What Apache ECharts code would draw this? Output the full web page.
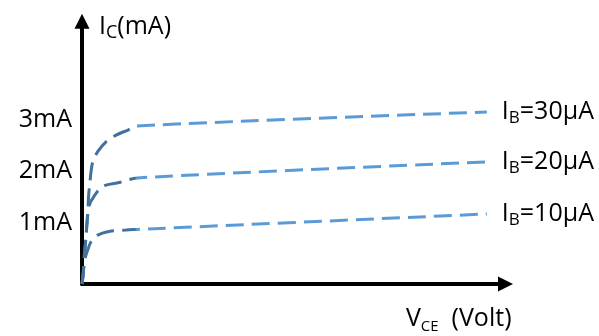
<!DOCTYPE html>
<html><head><meta charset="utf-8">
<script src="https://cdn.jsdelivr.net/npm/echarts@6/dist/echarts.min.js"></script>
<style>html,body{margin:0;padding:0;background:#fff}#c{width:599px;height:336px}</style>
</head><body><div id="c"></div>
<script>
// VCE (V) and IC (mA)
const ib30X = [0, 0.03, 0.054, 0.094, 0.135, 0.158, 0.189, 0.213, 0.253, 0.371, 0.567, 0.803, 1.086, 1.3, 9.56];
const ib30Y = [0, 0.21, 0.53, 0.92, 1.38, 1.73, 1.99, 2.18, 2.37, 2.57, 2.76, 2.89, 2.99, 3.07, 3.34];
const ib20X = [0, 0.03, 0.054, 0.094, 0.135, 0.189, 0.283, 0.401, 0.567, 0.874, 1.3, 9.56];
const ib20Y = [0, 0.21, 0.53, 0.92, 1.34, 1.57, 1.7, 1.83, 1.92, 1.97, 2.06, 2.37];
const ib10X = [0, 0.03, 0.054, 0.094, 0.135, 0.213, 0.371, 0.638, 1.039, 1.3, 9.56];
const ib10Y = [0, 0.21, 0.43, 0.56, 0.66, 0.82, 0.95, 1.02, 1.05, 1.06, 1.36];
const yTickLabels = ['', '1mA', '2mA', '3mA', '', ''];
const seriesNames = ['30', '20', '10'];

const FONT = 'Open Sans';
const zip = (xs, ys) => xs.map((x, i) => [x, ys[i]]);
const grad = () => new echarts.graphic.LinearGradient(0, 0, 1, 0, [
  {offset: 0, color: '#41719C'},
  {offset: 0.135, color: '#41719C'},
  {offset: 0.14, color: '#5B9BD5'},
  {offset: 1, color: '#5B9BD5'}
]);
const mkRich = (sub) => ({
  a: {fontSize: 25, fontFamily: FONT, color: '#000', lineHeight: 30},
  s: {fontSize: sub, fontFamily: FONT, color: '#000', lineHeight: 22, verticalAlign: 'bottom'}
});
const mkSeries = (name, xs, ys) => ({
  type: 'line', name: 'IB=' + name + 'μA', data: zip(xs, ys),
  showSymbol: false, symbol: 'none', smooth: 0.3,
  lineStyle: {width: 3, type: [18, 8], color: grad()},
  endLabel: {show: true, distance: 15, formatter: '{a|I}{s|B}{a|=' + name + 'μA}', rich: mkRich(17)},
  silent: true
});

const chart = echarts.init(document.getElementById('c'), null, {renderer: 'canvas'});
chart.setOption({
  animation: false,
  grid: {left: 82, right: 93.5, top: 21.35, bottom: 52},
  xAxis: {
    type: 'value', min: 0, max: 10,
    axisLine: {show: true, onZero: false, symbol: ['none', 'triangle'], symbolSize: [15, 15],
      lineStyle: {color: '#000', width: 4}},
    axisTick: {show: false}, axisLabel: {show: false}, splitLine: {show: false},
    name: '{a|V}{s|CE}{a|  (Volt)}', nameLocation: 'end', nameGap: 6,
    nameTextStyle: {align: 'right', verticalAlign: 'top', padding: [20, 0, 0, 0], rich: mkRich(15)}
  },
  yAxis: {
    type: 'value', min: 0, max: 5.1, interval: 1,
    axisLine: {show: true, onZero: false, symbol: ['none', 'triangle'], symbolSize: [15, 15],
      lineStyle: {color: '#000', width: 4}},
    axisTick: {show: false}, splitLine: {show: false},
    axisLabel: {show: true, margin: 10, fontSize: 25, fontFamily: FONT, color: '#000',
      verticalAlign: 'bottom', lineHeight: 20,
      formatter: v => yTickLabels[Math.round(v)] || ''},
    name: '{a|I}{s|C}{a|(mA)}', nameLocation: 'end', nameGap: -6,
    nameTextStyle: {align: 'left', verticalAlign: 'middle', padding: [0, 0, 0, 17], rich: mkRich(18)}
  },
  series: [
    mkSeries(seriesNames[0], ib30X, ib30Y),
    mkSeries(seriesNames[1], ib20X, ib20Y),
    mkSeries(seriesNames[2], ib10X, ib10Y)
  ]
});
</script></body></html>
